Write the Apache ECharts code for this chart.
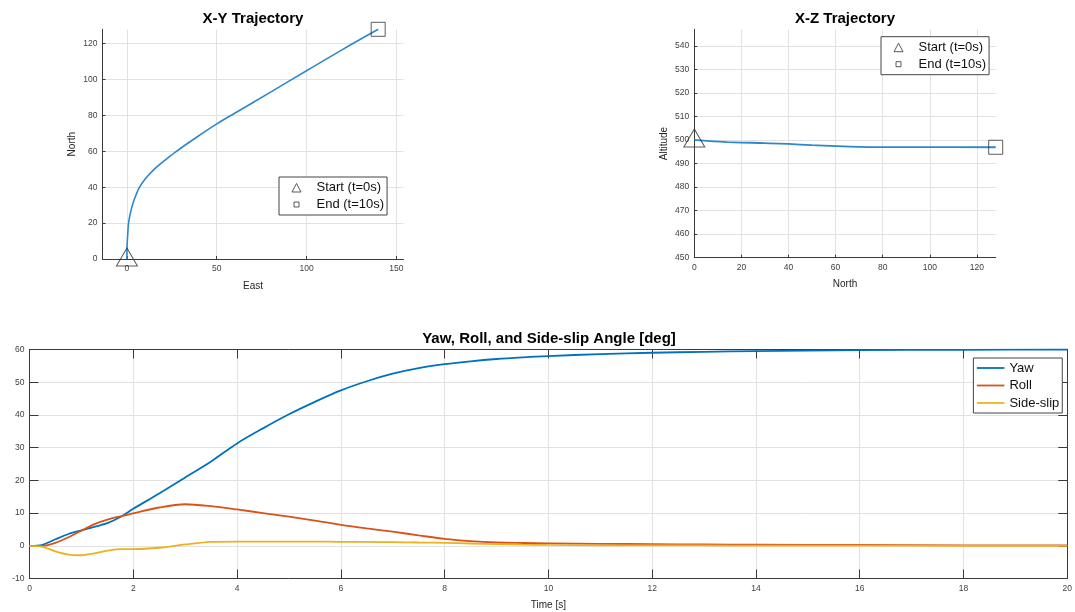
<!DOCTYPE html>
<html><head><meta charset="utf-8">
<script src="https://cdn.jsdelivr.net/npm/echarts@6/dist/echarts.min.js"></script>
<style>html,body{margin:0;padding:0;background:#fff}#c{width:1075px;height:612px}</style>
</head><body><div id="c"></div>
<script>
// ---------- X-Y trajectory ----------
const xyEast  = [0, 0, 0.1, 0.4, 0.9, 2.0, 3.5, 5.0, 7.0, 10.5, 15.0, 20.0, 27.0, 39.0, 50.7, 60, 80, 100, 120, 139.9];
const xyNorth = [0, 3, 8, 13, 20, 26, 31.5, 35.5, 40, 45, 49.8, 54.1, 59.6, 68.0, 75.7, 81.2, 93.0, 104.9, 116.7, 128];
const xyStart = [0, 0];
const xyEnd   = [139.9, 128];
const xyEastTicks  = [0, 50, 100, 150];
const xyNorthTicks = [0, 20, 40, 60, 80, 100, 120];

// ---------- X-Z trajectory ----------
const xzNorth = [0, 4, 8, 14, 20, 30, 40, 50, 60, 70, 80, 100, 128];
const xzAlt   = [500.0, 499.7, 499.4, 499.1, 498.9, 498.7, 498.3, 497.8, 497.4, 497.1, 497.0, 496.95, 496.9];
const xzStart = [0, 500];
const xzEnd   = [128, 496.9];
const xzNorthTicks = [0, 20, 40, 60, 80, 100, 120];
const xzAltTicks   = [450, 460, 470, 480, 490, 500, 510, 520, 530, 540];

// ---------- Angles vs time ----------
const timeS   = [0, 0.25, 0.5, 0.75, 1.0, 1.25, 1.5, 1.75, 2.0, 2.5, 3.0, 3.5, 4.0, 4.5, 5.0, 5.5, 6.0, 6.5, 7.0, 7.5, 8.0, 8.5, 9.0, 9.5, 10, 11, 12, 13, 14, 16, 18, 20];
const yawDeg  = [0, 0.3, 2.0, 3.6, 4.7, 5.8, 6.9, 8.8, 11.3, 16.0, 20.9, 25.8, 31.3, 35.9, 40.2, 44.0, 47.5, 50.3, 52.6, 54.3, 55.5, 56.4, 57.1, 57.6, 58.0, 58.6, 59.0, 59.3, 59.5, 59.8, 59.9, 60.0];
const rollDeg = [0, 0.0, 0.9, 2.6, 4.6, 6.6, 8.0, 9.0, 9.9, 11.7, 12.7, 12.1, 11.1, 10.0, 8.9, 7.7, 6.4, 5.3, 4.3, 3.2, 2.1, 1.4, 1.0, 0.85, 0.75, 0.6, 0.5, 0.4, 0.35, 0.25, 0.15, 0.1];
const slipDeg = [0, -0.3, -1.7, -2.7, -2.9, -2.3, -1.5, -1.0, -1.0, -0.6, 0.4, 1.2, 1.3, 1.3, 1.3, 1.3, 1.2, 1.2, 1.1, 1.0, 0.9, 0.7, 0.5, 0.35, 0.25, 0.15, 0.1, 0.1, 0.05, 0.05, 0.0, 0.0];

const FONT = '"Liberation Sans", Arial, Helvetica, sans-serif';
const AXC = '#3a3a3a';
const LBL = '#404040';
const GRIDC = '#e2e2e2';
const TRAJ = '#2b88cc';

const zip = (a, b) => a.map((v, i) => [v, b[i]]);

function measure(text, font) {
  const ctx = document.createElement('canvas').getContext('2d');
  ctx.font = font;
  return ctx.measureText(text).width;
}
function title(text, cx, top) {
  const f = 'bold 15px "Liberation Sans"';
  return { text, left: cx - measure(text, f) / 2, top, padding: 0,
    textStyle: { fontFamily: FONT, fontSize: 15, fontWeight: 'bold', color: '#000' } };
}

function axis(o) {
  const a = {
    type: 'value', gridIndex: o.grid, min: o.min, max: o.max,
    axisLine: { show: true, onZero: false, lineStyle: { color: AXC, width: 1 } },
    axisTick: { show: true, inside: true, length: o.tickLen || 3, lineStyle: { color: AXC } },
    axisLabel: { show: o.labels !== false, fontFamily: FONT, fontSize: 8.5, color: LBL, margin: o.margin || 5 },
    splitLine: { show: o.split !== false, lineStyle: { color: GRIDC, width: 1 } },
    name: o.name || '', nameLocation: 'middle', nameGap: o.nameGap || 20,
    nameTextStyle: { fontFamily: FONT, fontSize: 10, color: '#262626' }
  };
  if (o.position) a.position = o.position;
  if (o.interval) a.interval = o.interval;
  if (o.ticks) { a.axisTick.customValues = o.ticks; a.axisLabel.customValues = o.ticks; }
  if (o.rotate) a.nameRotate = 90;
  return a;
}

const markerStyle = { color: 'rgba(0,0,0,0)', borderColor: '#333', borderWidth: 1 };
const triIcon = 'path://M0,0M30,14M10.5,11.5L19.5,11.5L15,3Z';
const sqIcon  = 'path://M0,0M30,14M12.5,4.5L17.5,4.5L17.5,9.5L12.5,9.5Z';
const lineIcon = 'path://M0,0M27.5,14M0,6.1L27.5,6.1L27.5,7.9L0,7.9Z';

function trajLegend(left, top) {
  return {
    orient: 'vertical', left, top, itemWidth: 30, itemHeight: 14, itemGap: 2,
    padding: [3, 3, 3, 2], borderColor: '#444', borderWidth: 1, backgroundColor: '#fff',
    selectedMode: false,
    textStyle: { fontFamily: FONT, fontSize: 13, color: '#111', lineHeight: 14 },
    data: [
      { name: 'Start (t=0s)', icon: triIcon, itemStyle: markerStyle },
      { name: 'End (t=10s)', icon: sqIcon, itemStyle: markerStyle }
    ]
  };
}

const option = {
  animation: false,
  backgroundColor: '#fff',
  title: [
    title('X-Y Trajectory', 253, 11),
    title('X-Z Trajectory', 845, 11),
    title('Yaw, Roll, and Side-slip Angle [deg]', 549, 331)
  ],
  grid: [
    { left: 102.5, top: 29.3, width: 301, height: 229.7 },
    { left: 694.3, top: 29.3, width: 301.4, height: 228.4 },
    { left: 29.5, top: 349.5, width: 1039, height: 229 }
  ],
  xAxis: [
    axis({ grid: 0, min: -13.6, max: 154, ticks: xyEastTicks, name: 'East', nameGap: 22 }),
    axis({ grid: 1, min: 0, max: 128, ticks: xzNorthTicks, name: 'North', nameGap: 22 }),
    axis({ grid: 2, min: 0, max: 20, interval: 2, tickLen: 9, name: 'Time [s]', nameGap: 22, margin: 6 }),
    axis({ grid: 2, min: 0, max: 20, interval: 2, tickLen: 9, position: 'top', labels: false, split: false })
  ],
  yAxis: [
    axis({ grid: 0, min: 0, max: 128, ticks: xyNorthTicks, name: 'North', nameGap: 25, rotate: true }),
    axis({ grid: 1, min: 450, max: 547, ticks: xzAltTicks, name: 'Altitude', nameGap: 25, rotate: true }),
    axis({ grid: 2, min: -10, max: 60, interval: 10, tickLen: 9 }),
    axis({ grid: 2, min: -10, max: 60, interval: 10, tickLen: 9, position: 'right', labels: false, split: false })
  ],
  legend: [
    trajLegend(279, 177),
    trajLegend(881, 36.7),
    {
      orient: 'vertical', left: 973.4, top: 358, itemWidth: 27.5, itemHeight: 14, itemGap: 3.5,
      padding: [3, 3, 3, 3.5], borderColor: '#444', borderWidth: 1, backgroundColor: '#fff',
      selectedMode: false,
      textStyle: { fontFamily: FONT, fontSize: 13, color: '#111', lineHeight: 14 },
      data: [
        { name: 'Yaw', icon: lineIcon, itemStyle: { color: '#0072BD' } },
        { name: 'Roll', icon: lineIcon, itemStyle: { color: '#D95319' } },
        { name: 'Side-slip', icon: lineIcon, itemStyle: { color: '#EDB120' } }
      ]
    }
  ],
  series: [
    { type: 'line', name: 'xy', xAxisIndex: 0, yAxisIndex: 0, data: zip(xyEast, xyNorth),
      symbol: 'none', smooth: 0.35, lineStyle: { color: TRAJ, width: 1.6 } },
    { type: 'scatter', name: 'Start (t=0s)', xAxisIndex: 0, yAxisIndex: 0, data: [xyStart], clip: false,
      symbol: 'triangle', symbolSize: [21, 18], symbolOffset: [0, -2], itemStyle: markerStyle, z: 5 },
    { type: 'scatter', name: 'End (t=10s)', xAxisIndex: 0, yAxisIndex: 0, data: [xyEnd], clip: false,
      symbol: 'rect', symbolSize: 14, itemStyle: markerStyle, z: 5 },

    { type: 'line', name: 'xz', xAxisIndex: 1, yAxisIndex: 1, data: zip(xzNorth, xzAlt),
      symbol: 'none', smooth: 0.35, lineStyle: { color: TRAJ, width: 1.8 } },
    { type: 'scatter', name: 'Start (t=0s)', xAxisIndex: 1, yAxisIndex: 1, data: [xzStart], clip: false,
      symbol: 'triangle', symbolSize: [21, 18], symbolOffset: [0, -2], itemStyle: markerStyle, z: 5 },
    { type: 'scatter', name: 'End (t=10s)', xAxisIndex: 1, yAxisIndex: 1, data: [xzEnd], clip: false,
      symbol: 'rect', symbolSize: 14, itemStyle: markerStyle, z: 5 },

    { type: 'line', name: 'Yaw', xAxisIndex: 2, yAxisIndex: 2, data: zip(timeS, yawDeg),
      symbol: 'none', smooth: 0.3, color: '#0072BD', lineStyle: { color: '#0072BD', width: 1.8 } },
    { type: 'line', name: 'Roll', xAxisIndex: 2, yAxisIndex: 2, data: zip(timeS, rollDeg),
      symbol: 'none', smooth: 0.3, color: '#D95319', lineStyle: { color: '#D95319', width: 1.8 } },
    { type: 'line', name: 'Side-slip', xAxisIndex: 2, yAxisIndex: 2, data: zip(timeS, slipDeg),
      symbol: 'none', smooth: 0.3, color: '#EDB120', lineStyle: { color: '#EDB120', width: 1.8 } }
  ]
};

const chart = echarts.init(document.getElementById('c'), null, { renderer: 'canvas' });
chart.setOption(option);
</script>
</body></html>
